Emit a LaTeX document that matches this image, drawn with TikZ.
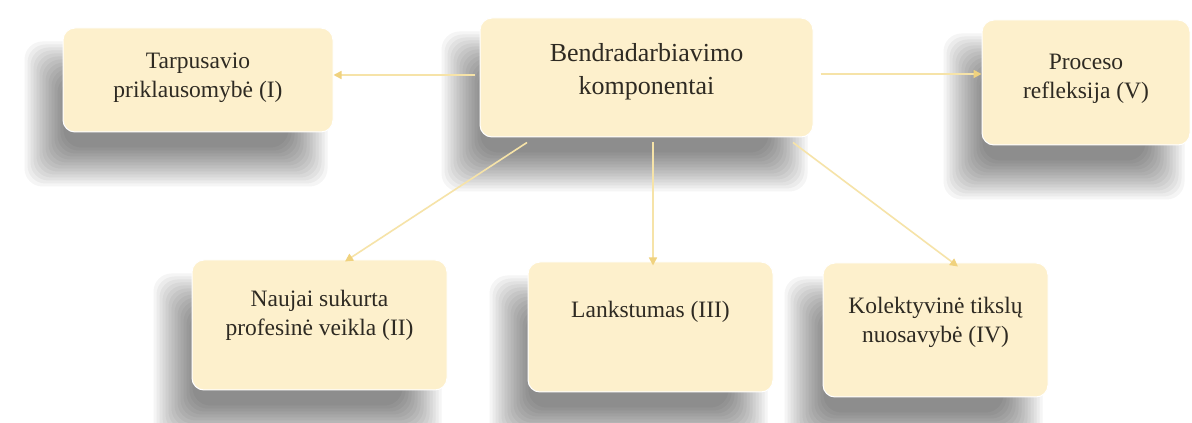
\documentclass[tikz,border=0pt]{standalone}
\usepackage{fontspec}
\setmainfont{Liberation Serif}
\usetikzlibrary{calc,arrows.meta}
\pgfdeclarelayer{bg}
\pgfsetlayers{bg,main}
\definecolor{boxfill}{HTML}{FDF0CC}
\definecolor{arrcol}{HTML}{F6E3A8}
\definecolor{tipcol}{HTML}{F0D27E}
\definecolor{txtcol}{HTML}{2E2A22}
\tikzset{
  cbox/.style={fill=boxfill, draw=white, line width=1pt, rounded corners=12pt, inner sep=0pt},
  ctext/.style={text=txtcol, align=center, font=\fontsize{23.5}{29}\selectfont, inner sep=0pt},
  ctextbig/.style={text=txtcol, align=center, font=\fontsize{26}{33}\selectfont, inner sep=0pt},
  conn/.style={draw=arrcol, line width=1.6pt, -{Triangle[length=8pt,width=8pt,fill=tipcol,color=tipcol]}},
}
\newcommand{\boxshadow}[1]{%
  \begin{pgfonlayer}{bg}
  \foreach \k in {0,...,13}{
    \fill[black, opacity=0.04, rounded corners=18pt]
      ($(#1.north west)+(-18-20+3*\k,-34+20-3*\k)$) rectangle ($(#1.south east)+(-26+20-3*\k,-34-20+3*\k)$);
  }
  \end{pgfonlayer}}
\begin{document}
\begin{tikzpicture}[x=1pt,y=1pt]
\useasboundingbox (0,0) rectangle (1192,423);
\begin{pgfonlayer}{bg}
\fill[white] (0,0) rectangle (1192,423);
\end{pgfonlayer}
% boxes (y measured from top: y_tikz = 423 - y_img)
\node[cbox, minimum width=270pt, minimum height=104pt] (I)   at (198,343) {};
\node[cbox, minimum width=333pt, minimum height=119pt] (C)   at (646.5,345.5) {};
\node[cbox, minimum width=208pt, minimum height=125pt] (V)   at (1086,340.5) {};
\node[cbox, minimum width=255pt, minimum height=130pt] (II)  at (319.5,98) {};
\node[cbox, minimum width=245pt, minimum height=130pt] (III) at (650.5,96) {};
\node[cbox, minimum width=225pt, minimum height=134pt] (IV)  at (935.5,93) {};
\foreach \n in {I,C,V,II,III,IV}{\boxshadow{\n}}
% texts
\node[ctext]    (It)   at ($(I)+(0,2.5)$)    {Tarpusavio\\priklausomybė (I)};
\node[ctextbig] (Ct)   at ($(C)+(0,6)$)      {Bendradarbiavimo\\komponentai};
\node[ctext]    (Vt)   at ($(V)+(0,4)$)      {Proceso\\refleksija (V)};
\node[ctext]    (IIt)  at ($(II)+(0,9.5)$)   {Naujai sukurta\\profesinė veikla (II)};
\node[ctext]    (IIIt) at ($(III)+(0,15)$)   {Lankstumas (III)};
\node[ctext]    (IVt)  at ($(IV)+(0,8)$)     {Kolektyvinė tikslų\\nuosavybė (IV)};
% connectors
\draw[conn] ($(C.west)+(-5,2.5)$) -- ($(I.east)+(0,5)$);
\draw[conn] ($(C.east)+(7,3.5)$) -- ($(V.west)+(0,8.5)$);
\draw[conn] ($(C.south)+(-119.5,-5)$) -- ($(II.north)+(25.5,-2)$);
\draw[conn] ($(C.south)+(6.5,-5)$) -- ($(III.north)+(2.5,-4)$);
\draw[conn] ($(C.south)+(146.5,-5)$) -- ($(IV.north)+(22.5,-4)$);
\end{tikzpicture}
\end{document}
